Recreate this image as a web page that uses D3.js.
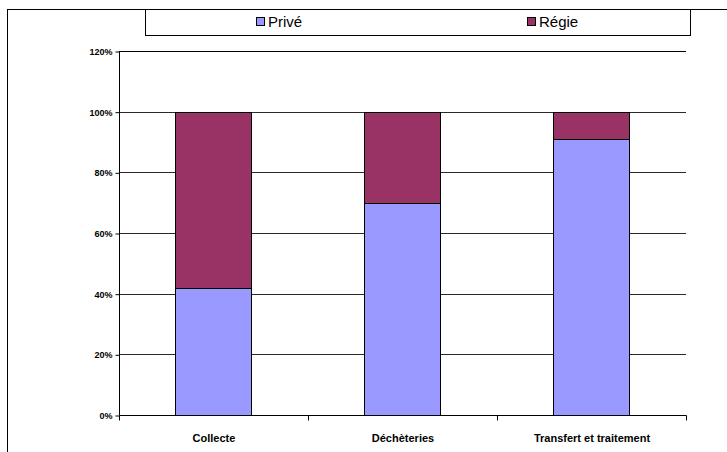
<!DOCTYPE html>
<html>
<head>
<meta charset="utf-8">
<script src="https://cdn.jsdelivr.net/npm/d3@7"></script>
<style>
  html, body { margin: 0; padding: 0; background: #fff; }
  svg { display: block; }
</style>
</head>
<body>
<svg id="chart" width="727" height="452"></svg>
<script>
// Répartition privé / régie par activité (en %)
const categories = ["Collecte", "Déchèteries", "Transfert et traitement"];
const prive = [42, 70, 91];
const regie = [58, 30, 9];
const seriesNames = ["Privé", "Régie"];
const seriesColors = ["#9999FF", "#993366"];
const yTicks = [0, 20, 40, 60, 80, 100, 120];

const svg = d3.select("#chart");
const margin = { left: 119, right: 41, top: 51, bottom: 37 };
const W = 727, H = 452;

// Cadre extérieur
svg.append("rect")
  .attr("x", 7.5).attr("y", 9.5)
  .attr("width", 740).attr("height", 460)
  .attr("fill", "none").attr("stroke", "#000").attr("stroke-width", 1);

const x = d3.scaleBand()
  .domain(categories)
  .range([margin.left, W - margin.right])
  .paddingInner(0).paddingOuter(0);

const y = d3.scaleLinear()
  .domain([0, 120])
  .range([H - margin.bottom, margin.top]);

// Quadrillage horizontal
svg.append("g")
  .selectAll("line")
  .data(yTicks.filter(d => d > 0))
  .join("line")
  .attr("x1", margin.left).attr("x2", W - margin.right)
  .attr("y1", d => Math.round(y(d)) + 0.5).attr("y2", d => Math.round(y(d)) + 0.5)
  .attr("stroke", d => d === 120 ? "#000" : "#2a2a2a")
  .attr("stroke-width", 1);

// Barres empilées
const rows = categories.map((c, i) => ({ cat: c, "Privé": prive[i], "Régie": regie[i] }));
const stacked = d3.stack().keys(seriesNames)(rows);
const barW = x.bandwidth() * 0.4;

svg.append("g")
  .selectAll("g")
  .data(stacked)
  .join("g")
  .attr("fill", (d, i) => seriesColors[i])
  .selectAll("rect")
  .data(d => d)
  .join("rect")
  .attr("x", d => Math.floor(x(d.data.cat) + (x.bandwidth() - barW) / 2) + 0.5)
  .attr("width", Math.round(barW))
  .attr("y", d => Math.round(y(d[1])) + 0.5)
  .attr("height", d => Math.round(y(d[0])) - Math.round(y(d[1])))
  .attr("stroke", "#000")
  .attr("stroke-width", 1);

// Axe des ordonnées
const yAxis = d3.axisLeft(y)
  .tickValues(yTicks)
  .tickFormat(d => d + "%")
  .tickSize(4)
  .tickPadding(3);

const gy = svg.append("g")
  .attr("transform", `translate(${margin.left + 0.5},0.5)`)
  .call(yAxis);
gy.select(".domain").attr("d", `M0,${y(120)}V${y(0)}`).attr("stroke", "#000");
gy.selectAll(".tick line").attr("stroke", "#000");
gy.selectAll(".tick text")
  .attr("font-family", "Liberation Sans, Arial, sans-serif")
  .attr("font-size", 9)
  .attr("font-weight", "bold")
  .attr("fill", "#000");

// Axe des abscisses
const gx = svg.append("g")
  .attr("transform", `translate(0.5,${Math.round(y(0)) + 0.5})`);
gx.append("line")
  .attr("x1", margin.left).attr("x2", W - margin.right)
  .attr("stroke", "#000");
const bounds = [...categories.map(c => x(c)), x(categories[categories.length - 1]) + x.bandwidth()];
gx.selectAll(".tk")
  .data(bounds)
  .join("line")
  .attr("class", "tk")
  .attr("x1", d => Math.round(d)).attr("x2", d => Math.round(d))
  .attr("y1", 0).attr("y2", 5)
  .attr("stroke", "#000");
gx.selectAll("text")
  .data(categories)
  .join("text")
  .attr("x", d => x(d) + x.bandwidth() / 2)
  .attr("y", 26)
  .attr("text-anchor", "middle")
  .attr("font-family", "Liberation Sans, Arial, sans-serif")
  .attr("font-size", 11)
  .attr("font-weight", "bold")
  .attr("fill", "#000")
  .text(d => d);

// Légende
const lg = svg.append("g");
lg.append("rect")
  .attr("x", 145.5).attr("y", 9.5)
  .attr("width", 545).attr("height", 26)
  .attr("fill", "#fff").attr("stroke", "#000");
const legendX = [256, 527];
seriesNames.forEach((name, i) => {
  lg.append("rect")
    .attr("x", legendX[i] + 0.5).attr("y", 17.5)
    .attr("width", 8).attr("height", 8)
    .attr("fill", seriesColors[i]).attr("stroke", "#000");
  lg.append("text")
    .attr("x", legendX[i] + 12).attr("y", 27)
    .attr("font-family", "Liberation Sans, Arial, sans-serif")
    .attr("font-size", 15)
    .attr("fill", "#000")
    .text(name);
});
</script>
</body>
</html>
